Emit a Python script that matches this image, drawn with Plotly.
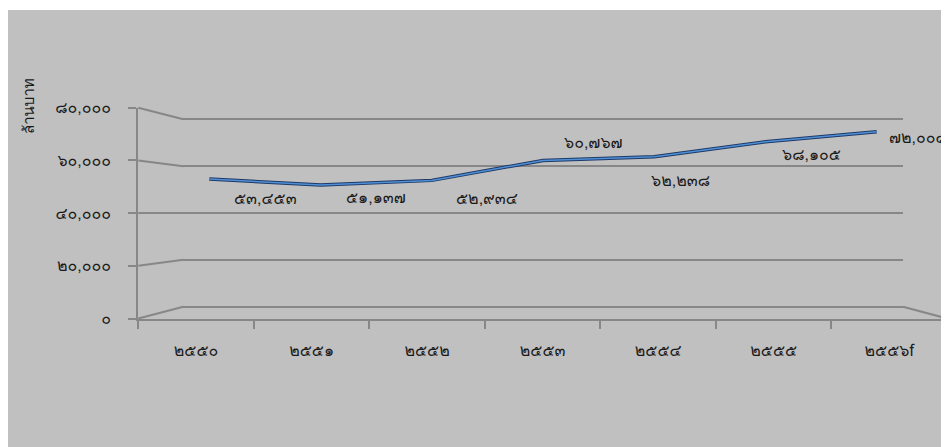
import plotly.graph_objects as go

# ---- data ----
years = ["๒๕๕๐", "๒๕๕๑", "๒๕๕๒", "๒๕๕๓", "๒๕๕๔", "๒๕๕๕", "๒๕๕๖f"]
values = [53453, 51137, 52934, 60767, 62238, 68105, 72008]
value_labels = ["๕๓,๔๕๓", "๕๑,๑๓๗", "๕๒,๙๓๔", "๖๐,๗๖๗", "๖๒,๒๓๘", "๖๘,๑๐๕", "๗๒,๐๐๘"]
y_ticks = [0, 20000, 40000, 60000, 80000]
y_tick_labels = ["๐", "๒๐,๐๐๐", "๔๐,๐๐๐", "๖๐,๐๐๐", "๘๐,๐๐๐"]
y_title = "ล้านบาท"

# page body has an 8px margin: the figure fills the rest of the 949x447 window
OFF = 8
W, H = 949 - OFF, 447 - OFF
def px(x):
    return (x - OFF) / W
def py(y):
    return 1 - (y - OFF) / H

FONT = "Tahoma, Loma, Garuda, Waree, 'Noto Sans Thai', 'Noto Sans', sans-serif"
TXT = "#1a1a1a"
GRID = "#878787"
BG = "#c0c0c0"

# depth planes of the 3D look (screen pixel boxes)
front = dict(x0=138.3, x1=947.0, y0=318.5, y1=107.7)
back = dict(x0=183.3, x1=903.0, y0=306.7, y1=119.3)
mid = dict(x0=153.7, x1=932.3, y0=315.3, y1=111.4)
YMAX = 80000

PAD = 4000
kb = (back["y0"] - back["y1"]) / YMAX
back_dom = [py(back["y0"] + PAD * kb), py(back["y1"] - PAD * kb)]

fig = go.Figure()

fig.add_trace(go.Scatter(x=years, y=values, xaxis="x", yaxis="y", mode="markers",
                         marker=dict(opacity=0), hoverinfo="skip", showlegend=False))
fig.add_trace(go.Scatter(x=years, y=values, xaxis="x2", yaxis="y2", mode="markers",
                         marker=dict(opacity=0), hoverinfo="skip", showlegend=False))
fig.add_trace(go.Scatter(x=years, y=values, xaxis="x3", yaxis="y3", mode="lines",
                         line=dict(color="#1f3a66", width=3.5), hoverinfo="skip",
                         showlegend=False))
fig.add_trace(go.Scatter(x=years, y=values, xaxis="x3", yaxis="y3", mode="lines",
                         line=dict(color="#4f8fd6", width=1.5), showlegend=False))

offsets = [(56, -19, "center"), (55, -13, "center"), (55, -18, "center"),
           (50, 18, "center"), (26, -24, "center"), (46, -13, "center"),
           (10, -6, "left")]
annotations = []
for yr, v, lab, (dx, dy, anc) in zip(years, values, value_labels, offsets):
    annotations.append(dict(x=yr, y=v, xref="x3", yref="y3", text=lab, showarrow=False,
                            xshift=dx, yshift=dy, xanchor=anc, yanchor="middle",
                            font=dict(family=FONT, size=16, color=TXT)))
annotations.append(dict(x=px(29), y=py(106), xref="paper", yref="paper", text=y_title,
                        showarrow=False, textangle=-90, xanchor="center", yanchor="middle",
                        font=dict(family=FONT, size=15, color=TXT)))

shapes = [
    dict(type="rect", xref="paper", yref="paper", x0=0, x1=1.0, y0=0, y1=py(10),
         fillcolor=BG, line=dict(width=0), layer="below"),
]
for v in y_ticks:
    yf = front["y0"] - v / YMAX * (front["y0"] - front["y1"])
    yb = back["y0"] - v / YMAX * (back["y0"] - back["y1"])
    shapes.append(dict(type="line", xref="paper", yref="paper",
                       x0=px(front["x0"]), y0=py(yf), x1=px(back["x0"]), y1=py(yb),
                       line=dict(color=GRID, width=2), layer="below"))
shapes.append(dict(type="line", xref="paper", yref="paper",
                   x0=px(back["x1"]), y0=py(back["y0"]), x1=px(front["x1"]), y1=py(front["y0"]),
                   line=dict(color=GRID, width=2), layer="below"))

common_cat = dict(type="category", categoryorder="array", categoryarray=years,
                  range=[-0.5, len(years) - 0.5], fixedrange=True, automargin=False)

fig.update_layout(
    template="none",
    width=W, height=H, autosize=False,
    margin=dict(l=0, r=0, t=0, b=0, pad=0),
    paper_bgcolor="white", plot_bgcolor="rgba(0,0,0,0)",
    font=dict(family=FONT, size=12, color=TXT),
    showlegend=False,
    xaxis=dict(**common_cat, domain=[px(back["x0"]), px(back["x1"])], anchor="y",
               showgrid=False, showticklabels=False, showline=False, ticks="", zeroline=False),
    yaxis=dict(range=[-PAD, YMAX + PAD], domain=back_dom, anchor="x", automargin=False,
               tickvals=y_ticks, showgrid=True, gridcolor=GRID, gridwidth=2,
               zeroline=False, showticklabels=False, ticks="", showline=False,
               fixedrange=True),
    xaxis2=dict(**common_cat, domain=[px(front["x0"]), px(front["x1"])], anchor="y2",
                showgrid=False, showline=True, linecolor=GRID, linewidth=2,
                ticks="outside", ticklen=8, tickwidth=2, tickcolor=GRID,
                tickson="boundaries", ticklabelstandoff=16, zeroline=False,
                tickfont=dict(family=FONT, size=16, color=TXT)),
    yaxis2=dict(range=[0, YMAX], domain=[py(front["y0"]), py(front["y1"])], anchor="x2",
                automargin=False,
                tickvals=y_ticks, ticktext=y_tick_labels, showgrid=False, zeroline=False,
                showline=True, linecolor=GRID, linewidth=2,
                ticks="outside", ticklen=8, tickwidth=2, tickcolor=GRID,
                ticklabelstandoff=14, fixedrange=True,
                tickfont=dict(family=FONT, size=16, color=TXT)),
    xaxis3=dict(**common_cat, domain=[px(mid["x0"]), px(mid["x1"])], anchor="y3", visible=False),
    yaxis3=dict(range=[0, YMAX], domain=[py(mid["y0"]), py(mid["y1"])], anchor="x3",
                visible=False, fixedrange=True, automargin=False),
    shapes=shapes,
    annotations=annotations,
)

fig.write_html("out.html")
